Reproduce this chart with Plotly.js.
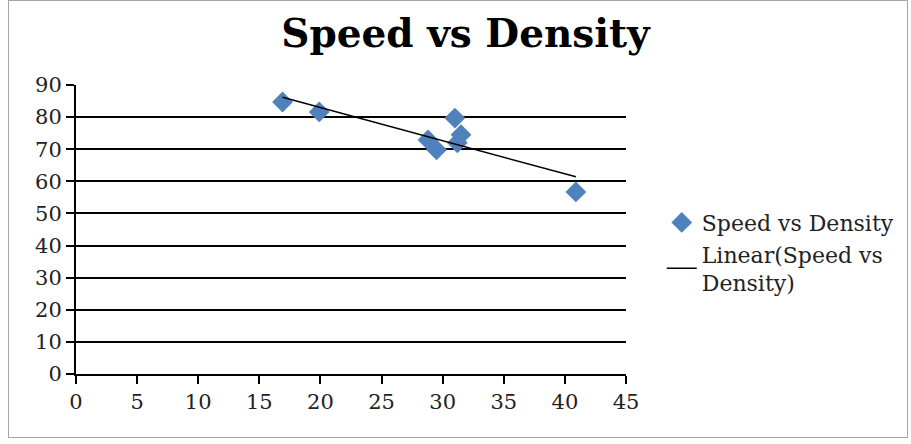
<!DOCTYPE html>
<html>
<head>
<meta charset="utf-8">
<script src="https://cdn.plot.ly/plotly-3.0.1.min.js"></script>
<style>
  html, body { margin: 0; padding: 0; background: #fff; }
  #frame { position: absolute; left: 8px; top: 0px; width: 900px; height: 438px; border: 1px solid #a6a6a6; box-sizing: border-box; }
  #chart { position: absolute; left: 0; top: 0; width: 911px; height: 444px; }
</style>
</head>
<body>
<div id="frame"></div>
<div id="chart"></div>
<script>
// Data
const density = [16.9, 19.9, 28.8, 29.5, 31.0, 31.2, 31.5, 40.9];
const speed   = [84.7, 81.6, 72.9, 69.8, 79.7, 72.0, 74.5, 56.7];
const xTicks = [0, 5, 10, 15, 20, 25, 30, 35, 40, 45];
const yTicks = [0, 10, 20, 30, 40, 50, 60, 70, 80, 90];

// Least-squares linear trend line
const n = density.length;
const mx = density.reduce((a, b) => a + b, 0) / n;
const my = speed.reduce((a, b) => a + b, 0) / n;
let sxy = 0, sxx = 0;
for (let i = 0; i < n; i++) { sxy += (density[i] - mx) * (speed[i] - my); sxx += (density[i] - mx) ** 2; }
const slope = sxy / sxx;
const intercept = my - slope * mx;
const xMin = Math.min(...density), xMax = Math.max(...density);
const trendX = [xMin, xMax];
const trendY = trendX.map(x => intercept + slope * x);

const serif = "DejaVu Serif, Liberation Serif, serif";

const traces = [
  {
    x: density, y: speed, type: 'scatter', mode: 'markers',
    name: 'Speed vs Density',
    marker: { symbol: 'diamond', size: 16, color: '#4F81BD', line: { width: 0 } }
  },
  {
    x: trendX, y: trendY, type: 'scatter', mode: 'lines',
    name: 'Linear(Speed vs<br>Density)',
    line: { color: '#000000', width: 1.5 }
  }
];

const layout = {
  width: 911, height: 444,
  paper_bgcolor: 'rgba(0,0,0,0)', plot_bgcolor: '#ffffff',
  margin: { l: 76, r: 283, t: 85, b: 70 },
  title: {
    text: '<b>Speed vs Density</b>',
    font: { family: serif, size: 39, color: '#000' },
    x: 0.511, xanchor: 'center', xref: 'container',
    y: 0.925, yanchor: 'middle', yref: 'container'
  },
  xaxis: {
    range: [0, 45], tickvals: xTicks, ticktext: xTicks.map(String),
    showgrid: false, zeroline: false,
    showline: true, linecolor: '#000', linewidth: 2,
    ticks: 'outside', ticklen: 8, tickcolor: '#000', tickwidth: 2,
    tickfont: { family: serif, size: 21, color: '#222' }
  },
  yaxis: {
    range: [0, 90], tickvals: yTicks, ticktext: yTicks.map(String),
    showgrid: true, gridcolor: '#000', gridwidth: 2, zeroline: false,
    showline: true, linecolor: '#000', linewidth: 2,
    ticks: 'outside', ticklen: 8, tickcolor: '#000', tickwidth: 2,
    tickfont: { family: serif, size: 21, color: '#222' }
  },
  showlegend: true,
  legend: {
    x: 1.065, xanchor: 'left', y: 0.42, yanchor: 'middle',
    font: { family: serif, size: 22, color: '#222' },
    bgcolor: 'rgba(0,0,0,0)', tracegroupgap: 4
  }
};

Plotly.newPlot('chart', traces, layout, { displayModeBar: false, staticPlot: true });
</script>
</body>
</html>
